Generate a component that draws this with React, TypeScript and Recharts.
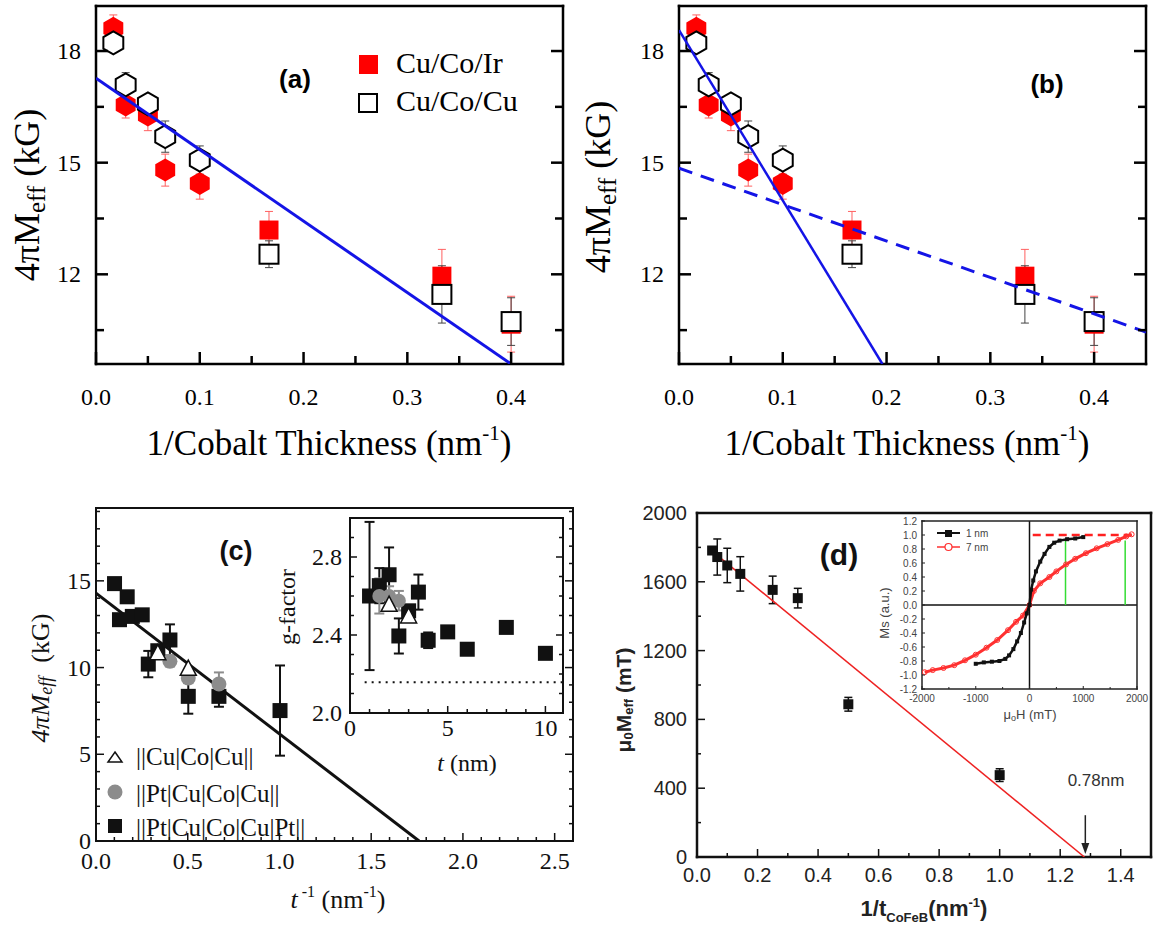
import React from 'react';
import { ScatterChart, Scatter, XAxis, YAxis, ErrorBar, ReferenceLine, ReferenceDot } from 'recharts';

const SERIF = '"Liberation Serif", "Times New Roman", serif';
const SANS = '"Liberation Sans", Arial, sans-serif';
const BLUE = '#1414e6';

// (a), (b): 4πMeff vs 1/Co thickness
const coInvT = [0.0167, 0.0286, 0.05, 0.0667, 0.1, 0.1667, 0.3333, 0.4];
const irMeff = [18.61, 16.55, 16.28, 14.8, 14.44, 13.19, 11.95, 10.66];
const irErr = [0.36, 0.35, 0.42, 0.43, 0.42, 0.5, 0.72, 0.75];
const cuMeff = [18.22, 17.09, 16.58, 15.7, 15.07, 12.54, 11.46, 10.73];
const cuErr = [0.15, 0.33, 0.2, 0.42, 0.38, 0.36, 0.77, 0.64];
const fitAX = [0, 0.4];
const fitAY = [17.27, 9.59];
const fitBSteepX = [0, 0.196];
const fitBSteepY = [18.56, 9.59];
const fitBFlatX = [0, 0.45];
const fitBFlatY = [14.85, 10.45];
const abXMajor = [0, 0.1, 0.2, 0.3, 0.4];
const abYTicks = [10.5, 12, 13.5, 15, 16.5, 18];
const abYMajor = [12, 15, 18];

// (c): 4πMeff vs 1/t for three stacks
const ptptInvT = [0.101, 0.128, 0.17, 0.198, 0.252, 0.285, 0.337, 0.403, 0.503, 0.67, 1.003];
const ptptMeff = [14.84, 12.76, 14.08, 12.95, 13.04, 10.2, 10.97, 11.59, 8.34, 8.34, 7.52];
const ptptErr = [0.15, 0.2, 0.3, 0.15, 0.15, 0.76, 0.2, 0.9, 1.0, 0.6, 2.6];
const ptInvT = [0.403, 0.503, 0.67];
const ptMeff = [10.36, 9.4, 9.05];
const ptErr = [0.3, 0.3, 0.67];
const cuInvT = [0.337, 0.503];
const cuCMeff = [10.82, 9.92];
const fitCX = [0, 1.761];
const fitCY = [14.29, 0];
const cXMajor = [0, 0.5, 1, 1.5, 2, 2.5];
const cYMajor = [0, 5, 10, 15];

// (c) inset: g-factor vs t
const gPtptT = [1, 1.5, 2, 2.5, 3, 3.5, 4, 5, 6, 8, 10];
const gPtpt = [2.6, 2.653, 2.709, 2.395, 2.524, 2.62, 2.373, 2.416, 2.327, 2.439, 2.306];
const gPtptErr = [0.38, 0.09, 0.14, 0.09, 0.03, 0.09, 0.04, 0.02, 0.02, 0.02, 0.02];
const gPtT = [1.5, 2, 2.5];
const gPt = [2.6, 2.6, 2.576];
const gPtErr = [0.09, 0.05, 0.05];
const gCuT = [2, 3];
const gCu = [2.554, 2.495];
const gFreeX = [0.75, 10.9];
const gFree = 2.158;
const ciXMajor = [0, 5, 10];
const ciYMajor = [2.0, 2.4, 2.8];

// (d): μ0Meff vs 1/t CoFeB
const dInvT = [0.05, 0.067, 0.1, 0.143, 0.25, 0.333, 0.5, 1.0];
const dMeff = [1782, 1744, 1695, 1646, 1553, 1505, 888, 476];
const dErr = [0, 105, 100, 100, 80, 57, 40, 37];
const fitDX = [0.042, 1.28];
const fitDY = [1790, 0];
const dXMajor = [0, 0.2, 0.4, 0.6, 0.8, 1.0, 1.2, 1.4];
const dYMajor = [0, 400, 800, 1200, 1600, 2000];
const arrowX = 1.283;
const arrowY = [243, 40];

// (d) inset: hysteresis loops
const loop1H = [-1000, -850, -700, -560, -450, -380, -300, -230, -160, -100, -50, 0, 30, 70, 120, 200, 280, 370, 460, 560, 700, 850, 1000];
const loop1M = [-0.84, -0.82, -0.81, -0.8, -0.77, -0.72, -0.63, -0.52, -0.4, -0.25, -0.12, 0, 0.22, 0.35, 0.48, 0.62, 0.73, 0.83, 0.89, 0.92, 0.94, 0.95, 0.97];
const loop7H = [-1950, -1800, -1600, -1400, -1200, -1000, -800, -600, -400, -250, -120, 0, 80, 200, 370, 500, 680, 850, 1050, 1250, 1450, 1650, 1800, 1900];
const loop7M = [-0.96, -0.93, -0.9, -0.86, -0.79, -0.71, -0.61, -0.5, -0.36, -0.24, -0.15, 0, 0.2, 0.31, 0.4, 0.48, 0.58, 0.66, 0.74, 0.81, 0.87, 0.93, 0.98, 1.01];
const satX = [60, 1900];
const satLevel = 1.0;
const satFields = [670, 1780];
const satTop = 0.92;
const diXMajor = [-2000, -1000, 0, 1000, 2000];

const steps = (a: number, b: number, s: number) => {
  const out: number[] = [];
  for (let v = a; v <= b + s / 1000; v += s) out.push(Math.round(v * 1000) / 1000);
  return out;
};
const pts = (xs: number[], ys: number[], es?: number[]) => xs.map((x, i) => ({ x, y: ys[i], err: es ? es[i] : 0 }));
const isMajor = (v: number, m: number[]) => m.some((q) => Math.abs(q - v) < 1e-6);

type Frame = {
  left: number; top: number; width: number; height: number;
  padL: number; padB: number; padT: number; padR: number;
  xDomain: [number, number]; yDomain: [number, number];
  xTicks: number[]; xMajor: number[]; yTicks: number[]; yMajor: number[];
  xFmt: (v: number) => string; yFmt: (v: number) => string;
  font: string; fontSize: number; color: string; weight?: string;
  stroke: string; axisWidth: number; tickWidth: number;
  majorLen: number; minorLen: number; xGap: number; yGap: number; mirror: boolean;
};

function frameAxes(f: Frame) {
  const axisLine = { stroke: f.stroke, strokeWidth: f.axisWidth, strokeLinecap: 'square' };
  const common: any = { type: 'number', allowDataOverflow: true, tickLine: false, tickSize: 0, tickMargin: 0, interval: 0, axisLine };
  const len = (v: number, m: number[]) => (isMajor(v, m) ? f.majorLen : f.minorLen);
  const txt = { fontFamily: f.font, fontSize: f.fontSize, fill: f.color, fontWeight: f.weight };
  const bottom = (p: any) => {
    const v = p.payload.value;
    return (
      <g>
        <line x1={p.x} y1={p.y} x2={p.x} y2={p.y - len(v, f.xMajor)} stroke={f.stroke} strokeWidth={f.tickWidth} />
        {isMajor(v, f.xMajor) && (
          <text x={p.x} y={p.y + f.xGap} textAnchor="middle" dominantBaseline="central" {...txt}>{f.xFmt(v)}</text>
        )}
      </g>
    );
  };
  const top = (p: any) => {
    if (!f.mirror) return <g />;
    const v = p.payload.value;
    return <line x1={p.x} y1={p.y} x2={p.x} y2={p.y + len(v, f.xMajor)} stroke={f.stroke} strokeWidth={f.tickWidth} />;
  };
  const left = (p: any) => {
    const v = p.payload.value;
    return (
      <g>
        <line x1={p.x} y1={p.y} x2={p.x + len(v, f.yMajor)} y2={p.y} stroke={f.stroke} strokeWidth={f.tickWidth} />
        {isMajor(v, f.yMajor) && (
          <text x={p.x - f.yGap} y={p.y} textAnchor="end" dominantBaseline="central" {...txt}>{f.yFmt(v)}</text>
        )}
      </g>
    );
  };
  const right = (p: any) => {
    if (!f.mirror) return <g />;
    const v = p.payload.value;
    return <line x1={p.x} y1={p.y} x2={p.x - len(v, f.yMajor)} y2={p.y} stroke={f.stroke} strokeWidth={f.tickWidth} />;
  };
  return [
    <XAxis key="xb" dataKey="x" orientation="bottom" height={f.padB} domain={f.xDomain} ticks={f.xTicks} tick={bottom} {...common} />,
    <XAxis key="xt" xAxisId="t" orientation="top" height={f.padT} domain={f.xDomain} ticks={f.xTicks} tick={top} {...common} />,
    <YAxis key="yl" dataKey="y" orientation="left" width={f.padL} domain={f.yDomain} ticks={f.yTicks} tick={left} {...common} />,
    <YAxis key="yr" yAxisId="r" orientation="right" width={f.padR} domain={f.yDomain} ticks={f.yTicks} tick={right} {...common} />,
  ];
}

function Plot({ f, children }: { f: Frame; children?: React.ReactNode }) {
  const W = f.padL + f.width + f.padR;
  const H = f.padT + f.height + f.padB;
  return (
    <div style={{ position: 'absolute', left: f.left - f.padL, top: f.top - f.padT, width: W, height: H }}>
      <ScatterChart width={W} height={H} margin={{ top: 0, right: 0, bottom: 0, left: 0 }}>
        {frameAxes(f)}
        {children}
      </ScatterChart>
    </div>
  );
}

const abBase = {
  top: 6, width: 467, height: 358, padL: 70, padB: 60, padT: 5, padR: 5,
  xDomain: [0, 0.45] as [number, number], yDomain: [9.59, 19.21] as [number, number],
  xTicks: steps(0, 0.4, 0.05), xMajor: abXMajor, yTicks: abYTicks, yMajor: abYMajor,
  xFmt: (v: number) => v.toFixed(1), yFmt: (v: number) => String(v),
  font: SERIF, fontSize: 24, color: '#000', stroke: '#000', axisWidth: 2.5, tickWidth: 2.5,
  majorLen: 12, minorLen: 8, xGap: 33, yGap: 15, mirror: true,
};
const frameA: Frame = { ...abBase, left: 96 };
const frameB: Frame = { ...abBase, left: 679 };
const frameC: Frame = {
  left: 96, top: 508, width: 477, height: 333, padL: 50, padB: 35, padT: 6, padR: 6,
  xDomain: [0, 2.6], yDomain: [0, 19.2], xTicks: steps(0, 2.5, 0.1), xMajor: cXMajor,
  yTicks: steps(0, 19, 1), yMajor: cYMajor, xFmt: (v) => v.toFixed(1), yFmt: (v) => String(v),
  font: SERIF, fontSize: 24, color: '#111', stroke: '#111', axisWidth: 2, tickWidth: 1.5,
  majorLen: 8, minorLen: 4, xGap: 20, yGap: 5, mirror: true,
};
const frameCi: Frame = {
  left: 350, top: 518, width: 213, height: 195, padL: 45, padB: 28, padT: 4, padR: 4,
  xDomain: [0, 10.9], yDomain: [2.0, 3.0], xTicks: steps(0, 10, 1), xMajor: ciXMajor,
  yTicks: steps(2.0, 3.0, 0.1), yMajor: ciYMajor, xFmt: (v) => String(v), yFmt: (v) => v.toFixed(1),
  font: SERIF, fontSize: 24, color: '#111', stroke: '#111', axisWidth: 2, tickWidth: 1.5,
  majorLen: 7, minorLen: 4, xGap: 15, yGap: 8, mirror: true,
};
const frameD: Frame = {
  left: 697, top: 513, width: 454, height: 344, padL: 60, padB: 30, padT: 14, padR: 4,
  xDomain: [0, 1.5], yDomain: [0, 2000], xTicks: steps(0, 1.4, 0.1), xMajor: dXMajor,
  yTicks: steps(0, 2000, 200), yMajor: dYMajor, xFmt: (v) => v.toFixed(1), yFmt: (v) => String(v),
  font: SANS, fontSize: 20, color: '#222', stroke: '#111', axisWidth: 2.5, tickWidth: 1.5,
  majorLen: 8, minorLen: 4, xGap: 18, yGap: 10, mirror: false,
};
const frameDi: Frame = {
  left: 922, top: 521, width: 215, height: 168, padL: 32, padB: 22, padT: 9, padR: 16,
  xDomain: [-2000, 2000], yDomain: [-1.2, 1.2], xTicks: steps(-2000, 2000, 500), xMajor: diXMajor,
  yTicks: steps(-1.2, 1.2, 0.2), yMajor: steps(-1.2, 1.2, 0.2), xFmt: (v) => String(v), yFmt: (v) => v.toFixed(1),
  font: SANS, fontSize: 10, color: '#444', stroke: '#222', axisWidth: 1.5, tickWidth: 1,
  majorLen: 3, minorLen: 2, xGap: 9, yGap: 5, mirror: false,
};

const noDot = () => <g />;
const hexPath = (cx: number, cy: number, r: number) => {
  const w = 0.866 * r;
  return `M${cx},${cy - r}L${cx + w},${cy - r / 2}L${cx + w},${cy + r / 2}L${cx},${cy + r}L${cx - w},${cy + r / 2}L${cx - w},${cy - r / 2}Z`;
};
const coMarker = (fill: string, stroke: string) => (p: any) => {
  const { cx, cy, payload } = p;
  if (payload.x < 0.12) return <path d={hexPath(cx, cy, 11.5)} fill={fill} stroke={stroke} strokeWidth={2} />;
  return <rect x={cx - 9.5} y={cy - 9.5} width={19} height={19} fill={fill} stroke={stroke} strokeWidth={2} />;
};
const square = (s: number, fill: string) => (p: any) => <rect x={p.cx - s / 2} y={p.cy - s / 2} width={s} height={s} fill={fill} />;
const circle = (r: number, fill: string, stroke = 'none', sw = 0) => (p: any) => <circle cx={p.cx} cy={p.cy} r={r} fill={fill} stroke={stroke} strokeWidth={sw} />;
const triangle = (s: number) => (p: any) => (
  <path d={`M${p.cx},${p.cy - s * 0.55}L${p.cx + s / 2},${p.cy + s * 0.4}L${p.cx - s / 2},${p.cy + s * 0.4}Z`} fill="#fff" stroke="#111" strokeWidth={1.5} />
);
const arrowHead = (p: any) => <path d={`M${p.cx - 4},${p.cy - 8}L${p.cx + 4},${p.cy - 8}L${p.cx},${p.cy + 3}Z`} fill="#222" />;

function coSeries() {
  return [
    <Scatter key="ir" data={pts(coInvT, irMeff, irErr)} shape={coMarker('#ff0000', 'none')} isAnimationActive={false}>
      <ErrorBar dataKey="err" direction="y" width={4} stroke="#ff6060" strokeWidth={1} />
    </Scatter>,
    <Scatter key="cu" data={pts(coInvT, cuMeff, cuErr)} shape={coMarker('#ffffff', '#000')} isAnimationActive={false}>
      <ErrorBar dataKey="err" direction="y" width={4} stroke="#444" strokeWidth={1} />
    </Scatter>,
  ];
}

function YLabelSerif({ x, y }: { x: number; y: number }) {
  return (
    <text transform={`translate(${x},${y}) rotate(-90)`} textAnchor="middle" dominantBaseline="central" fontFamily={SERIF} fontSize={36}>
      4πM<tspan fontSize={25} dy={9}>eff</tspan><tspan dy={-9}> (kG)</tspan>
    </text>
  );
}
function XLabelCo({ x }: { x: number }) {
  return (
    <text x={x} y={455} textAnchor="middle" fontFamily={SERIF} fontSize={35}>
      1/Cobalt Thickness (nm<tspan fontSize={21} dy={-15}>-1</tspan><tspan dy={15}>)</tspan>
    </text>
  );
}

export default function App() {
  return (
    <div style={{ position: 'absolute', left: 0, top: 0, width: 1155, height: 927, background: '#fff', overflow: 'hidden' }}>
      <Plot f={frameA}>
        {coSeries()}
        <Scatter data={pts(fitAX, fitAY)} line={{ stroke: BLUE, strokeWidth: 3 }} shape={noDot} isAnimationActive={false} />
      </Plot>
      <Plot f={frameB}>
        {coSeries()}
        <Scatter data={pts(fitBSteepX, fitBSteepY)} line={{ stroke: BLUE, strokeWidth: 2.5 }} shape={noDot} isAnimationActive={false} />
        <Scatter data={pts(fitBFlatX, fitBFlatY)} line={{ stroke: BLUE, strokeWidth: 3, strokeDasharray: '14 9' }} shape={noDot} isAnimationActive={false} />
      </Plot>
      <Plot f={frameC}>
        <Scatter data={pts(fitCX, fitCY)} line={{ stroke: '#111', strokeWidth: 3 }} shape={noDot} isAnimationActive={false} />
        <Scatter data={pts(ptptInvT, ptptMeff, ptptErr)} shape={square(15, '#111')} isAnimationActive={false}>
          <ErrorBar dataKey="err" direction="y" width={5} stroke="#111" strokeWidth={2} />
        </Scatter>
        <Scatter data={pts(ptInvT, ptMeff, ptErr)} shape={circle(7.5, '#8c8c8c')} isAnimationActive={false}>
          <ErrorBar dataKey="err" direction="y" width={5} stroke="#8c8c8c" strokeWidth={2} />
        </Scatter>
        <Scatter data={pts(cuInvT, cuCMeff)} shape={triangle(16)} isAnimationActive={false} />
      </Plot>
      <Plot f={frameCi}>
        <ReferenceLine segment={[{ x: gFreeX[0], y: gFree }, { x: gFreeX[1], y: gFree }]} stroke="#111" strokeWidth={2} strokeDasharray="2 5" />
        <Scatter data={pts(gPtptT, gPtpt, gPtptErr)} shape={square(15, '#111')} isAnimationActive={false}>
          <ErrorBar dataKey="err" direction="y" width={5} stroke="#111" strokeWidth={2} />
        </Scatter>
        <Scatter data={pts(gPtT, gPt, gPtErr)} shape={circle(7, '#8c8c8c')} isAnimationActive={false}>
          <ErrorBar dataKey="err" direction="y" width={5} stroke="#8c8c8c" strokeWidth={2} />
        </Scatter>
        <Scatter data={pts(gCuT, gCu)} shape={triangle(16)} isAnimationActive={false} />
      </Plot>
      <Plot f={frameD}>
        <Scatter data={pts(fitDX, fitDY)} line={{ stroke: '#ee2222', strokeWidth: 1.5 }} shape={noDot} isAnimationActive={false} />
        <Scatter data={pts(dInvT, dMeff, dErr)} shape={square(10, '#111')} isAnimationActive={false}>
          <ErrorBar dataKey="err" direction="y" width={4} stroke="#111" strokeWidth={1.5} />
        </Scatter>
        <ReferenceLine segment={[{ x: arrowX, y: arrowY[0] }, { x: arrowX, y: arrowY[1] }]} stroke="#222" strokeWidth={1.5} />
        <ReferenceDot x={arrowX} y={35} shape={arrowHead} />
      </Plot>
      <Plot f={frameDi}>
        <ReferenceLine x={0} stroke="#111" strokeWidth={1.5} />
        <ReferenceLine y={0} stroke="#111" strokeWidth={1.5} />
        <ReferenceLine segment={[{ x: satX[0], y: satLevel }, { x: satX[1], y: satLevel }]} stroke="#ff2020" strokeWidth={2.5} strokeDasharray="8 5" />
        <ReferenceLine segment={[{ x: satFields[0], y: 0 }, { x: satFields[0], y: satTop }]} stroke="#33dd33" strokeWidth={1.5} />
        <ReferenceLine segment={[{ x: satFields[1], y: 0 }, { x: satFields[1], y: satTop }]} stroke="#33dd33" strokeWidth={1.5} />
        <Scatter data={pts(loop7H, loop7M)} line={{ stroke: '#ff3030', strokeWidth: 3 }} shape={circle(2.5, 'none', '#ff3030', 1)} isAnimationActive={false} />
        <Scatter data={pts(loop1H, loop1M)} line={{ stroke: '#111', strokeWidth: 2.5 }} shape={square(4, '#111')} isAnimationActive={false} />
      </Plot>

      <svg width={1155} height={927} style={{ position: 'absolute', left: 0, top: 0, pointerEvents: 'none' }}>
        {/* (a) */}
        <YLabelSerif x={27} y={195} />
        <XLabelCo x={329} />
        <text x={295} y={79} textAnchor="middle" dominantBaseline="central" fontFamily={SANS} fontWeight="bold" fontSize={26}>(a)</text>
        <rect x={359} y={55} width={19} height={19} fill="#ff0000" />
        <text x={396} y={62} dominantBaseline="central" fontFamily={SERIF} fontSize={30}>Cu/Co/Ir</text>
        <rect x={359} y={94} width={18} height={18} fill="#fff" stroke="#000" strokeWidth={2} />
        <text x={396} y={100} dominantBaseline="central" fontFamily={SERIF} fontSize={30}>Cu/Co/Cu</text>

        {/* (b) */}
        <YLabelSerif x={598} y={187} />
        <XLabelCo x={907} />
        <text x={1047} y={84} textAnchor="middle" dominantBaseline="central" fontFamily={SANS} fontWeight="bold" fontSize={26}>(b)</text>

        {/* (c) */}
        <text transform="translate(40,678) rotate(-90)" textAnchor="middle" dominantBaseline="central" fontFamily={SERIF} fontSize={26} fill="#111">
          <tspan fontStyle="italic">4πM</tspan><tspan fontStyle="italic" fontSize={18} dy={6}>eff</tspan><tspan dx={14} dy={-6}>(kG)</tspan>
        </text>
        <text x={338} y={908} textAnchor="middle" fontFamily={SERIF} fontSize={26} fill="#111">
          <tspan fontStyle="italic">t</tspan><tspan fontSize={16} dy={-11}> -1</tspan><tspan dy={11}> (nm</tspan><tspan fontSize={16} dy={-11}>-1</tspan><tspan dy={11}>)</tspan>
        </text>
        <text x={236} y={551} textAnchor="middle" dominantBaseline="central" fontFamily={SANS} fontWeight="bold" fontSize={27} fill="#111">(c)</text>
        <path d="M115,752 L122,762 L108,762 Z" fill="#fff" stroke="#111" strokeWidth={1.5} />
        <text x={136} y={756} dominantBaseline="central" fontFamily={SERIF} fontSize={25} fill="#111">||Cu|Co|Cu||</text>
        <circle cx={115} cy={792} r={7.5} fill="#8c8c8c" />
        <text x={136} y={793} dominantBaseline="central" fontFamily={SERIF} fontSize={25} fill="#111">||Pt|Cu|Co|Cu||</text>
        <rect x={108} y={819} width={14} height={14} fill="#111" />
        <text x={136} y={827} dominantBaseline="central" fontFamily={SERIF} fontSize={25} fill="#111">||Pt|Cu|Co|Cu|Pt||</text>
        <text transform="translate(287,607) rotate(-90)" textAnchor="middle" dominantBaseline="central" fontFamily={SERIF} fontSize={24} fill="#111">g-factor</text>
        <text x={467} y={763} textAnchor="middle" dominantBaseline="central" fontFamily={SERIF} fontSize={24} fill="#111">
          <tspan fontStyle="italic">t</tspan> (nm)
        </text>

        {/* (d) */}
        <text transform="translate(623,700) rotate(-90)" textAnchor="middle" dominantBaseline="central" fontFamily={SANS} fontWeight="bold" fontSize={21} fill="#222">
          μ<tspan fontSize={13} dy={5}>0</tspan><tspan dy={-5}>M</tspan><tspan fontSize={13} dy={5}>eff</tspan><tspan dy={-5}> (mT)</tspan>
        </text>
        <text x={924} y={916} textAnchor="middle" fontFamily={SANS} fontWeight="bold" fontSize={22} fill="#222">
          1/t<tspan fontSize={13} dy={6}>CoFeB</tspan><tspan dy={-6}>(nm</tspan><tspan fontSize={13} dy={-9}>-1</tspan><tspan dy={9}>)</tspan>
        </text>
        <text x={839} y={554} textAnchor="middle" dominantBaseline="central" fontFamily={SANS} fontWeight="bold" fontSize={30} fill="#111">(d)</text>
        <text x={1096} y={780} textAnchor="middle" dominantBaseline="central" fontFamily={SANS} fontSize={17} fill="#333">0.78nm</text>
        <text transform="translate(884,613) rotate(-90)" textAnchor="middle" dominantBaseline="central" fontFamily={SANS} fontSize={13} fill="#444">Ms (a.u.)</text>
        <text x={1030} y={714} textAnchor="middle" dominantBaseline="central" fontFamily={SANS} fontSize={13} fill="#444">
          μ<tspan fontSize={9} dy={4}>o</tspan><tspan dy={-4}>H  (mT)</tspan>
        </text>
        <line x1={937} y1={533} x2={960} y2={533} stroke="#111" strokeWidth={2} />
        <rect x={945} y={530} width={7} height={7} fill="#111" />
        <text x={966} y={533} dominantBaseline="central" fontFamily={SANS} fontSize={10} fill="#444">1 nm</text>
        <line x1={937} y1={547} x2={960} y2={547} stroke="#ff3030" strokeWidth={1.5} />
        <circle cx={948.5} cy={547} r={3.5} fill="#fff" stroke="#ff3030" strokeWidth={1.2} />
        <text x={966} y={547} dominantBaseline="central" fontFamily={SANS} fontSize={10} fill="#444">7 nm</text>
      </svg>
    </div>
  );
}
